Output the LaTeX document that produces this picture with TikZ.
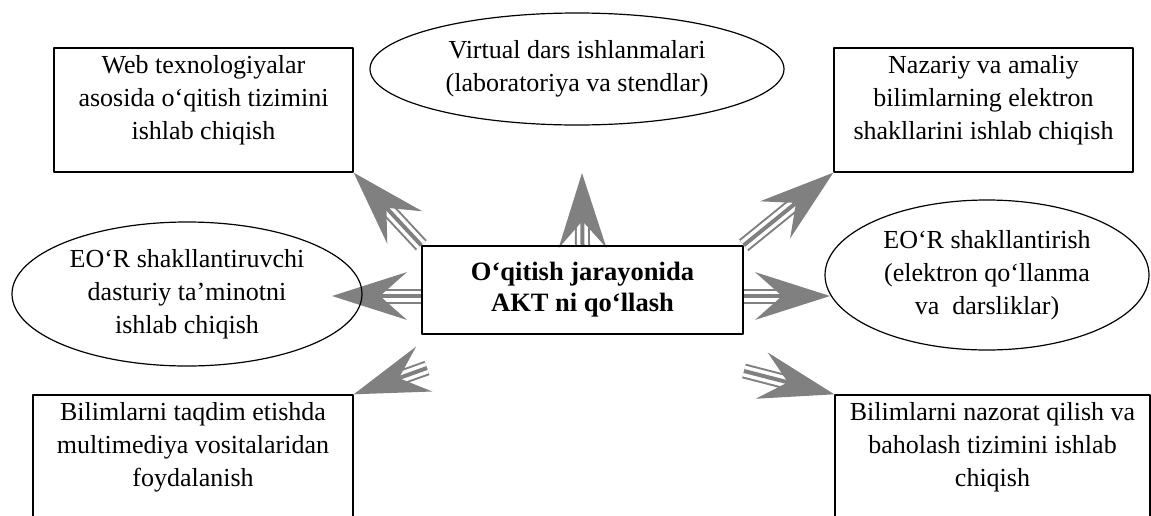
\documentclass[tikz,border=0pt]{standalone}
\usepackage{fontspec}
\setmainfont{Liberation Serif}
\usetikzlibrary{calc}
\usetikzlibrary{positioning}
\usetikzlibrary{shapes.geometric}
\usetikzlibrary{backgrounds}
\definecolor{arrowgray}{rgb}{0.5,0.5,0.5}
\tikzset{
  frame/.style={draw,line width=1.4pt,minimum width=299pt,minimum height=124pt,inner sep=0pt},
  oval/.style={draw,ellipse,line width=1.2pt,inner sep=0pt,align=center,font=\fontsize{26}{33}\selectfont},
  txt/.style={align=center,inner sep=0pt,font=\fontsize{26}{33}\selectfont},
}

\begin{document}
\begin{tikzpicture}[line join=round,x=1pt,y=-1pt]
\useasboundingbox (0,0) rectangle (1151,515);
% outer boxes
\node[frame] (tl) at (203.5,110) {};
\node[txt,below=7.5pt of tl.north] {Web texnologiyalar\\asosida o‘qitish tizimini\\ishlab chiqish};
\node[frame] (tr) at (983.5,110) {};
\node[txt,below=7.5pt of tr.north] {Nazariy va amaliy\\bilimlarning elektron\\shakllarini ishlab chiqish};
\node[frame,minimum width=320pt,minimum height=126pt] (bl) at (193,458) {};
\node[txt,below=7.5pt of bl.north] {Bilimlarni taqdim etishda\\multimediya vositalaridan\\foydalanish};
\node[frame,minimum width=315pt,minimum height=126pt] (br) at (992.5,458) {};
\node[txt,below=7.5pt of br.north] {Bilimlarni nazorat qilish va\\baholash tizimini ishlab\\chiqish};
% ovals
\node[oval,minimum width=414pt,minimum height=112pt] (tp) at (577,69) {Virtual dars ishlanmalari\\(laboratoriya va stendlar)};
\node[oval,minimum width=350pt,minimum height=144pt] (lf) at (187,294) {EO‘R shakllantiruvchi\\dasturiy ta’minotni\\ishlab chiqish};
\node[oval,minimum width=324pt,minimum height=150pt] (rt) at (987,275) {EO‘R shakllantirish\\(elektron qo‘llanma\\va~ darsliklar)};
% centre
\node[draw,line width=1.5pt,minimum width=321pt,minimum height=88pt,align=center,
      font=\fontsize{26.5}{31}\selectfont\bfseries] (c) at (582.5,290) {O‘qitish jarayonida\\AKT ni qo‘llash};
% arrow ends
\coordinate (up) at (582,173);
\coordinate (cl) at (422,296);
\coordinate (lt) at (332,296);
\coordinate (cr) at (743,296);
\coordinate (rtt) at (830,296);
\coordinate (dl) at (427,368);
\coordinate (dr) at (744,371);
\begin{scope}[on background layer]
\foreach \s/\t in {c.north west/tl.south east,c.north/up,c.north east/tr.south west,cl/lt,cr/rtt,dl/bl.north east,dr/br.north west}{
  \draw[arrowgray,line width=15pt] (\s) -- ($(\t)!42pt!(\s)$);
  \draw[white,line width=11pt] (\s) -- ($(\t)!42pt!(\s)$);
  \draw[arrowgray,line width=4pt] (\s) -- ($(\t)!42pt!(\s)$);
  \fill[arrowgray] (\t) -- ($(\t)!78.7pt!17.7:(\s)$) -- ($(\t)!48pt!(\s)$) -- ($(\t)!78.7pt!-17.7:(\s)$) -- cycle;
}
\end{scope}
\end{tikzpicture}
\end{document}
